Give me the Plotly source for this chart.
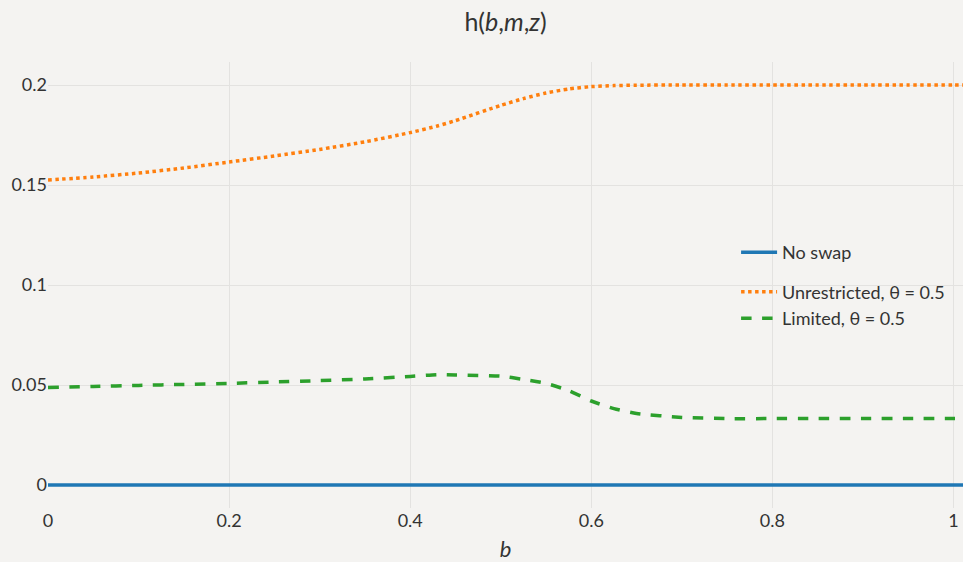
import plotly.graph_objects as go

b_vals = [0, 0.05, 0.1, 0.15, 0.2, 0.25, 0.3, 0.35, 0.4, 0.43, 0.45, 0.5, 0.525, 0.55,
          0.575, 0.6, 0.625, 0.65, 0.7, 0.75, 0.8, 0.85, 0.9, 0.95, 1.0, 1.011]
no_swap = [0.0] * len(b_vals)
unrestricted = [0.1525, 0.154, 0.156, 0.1585, 0.1615, 0.1645, 0.1678, 0.1716, 0.1762, 0.1795,
                0.1822, 0.1898, 0.1932, 0.1960, 0.1980, 0.1992, 0.1997, 0.1999, 0.2, 0.2,
                0.2, 0.2, 0.2, 0.2, 0.2, 0.2]
limited = [0.0488, 0.0493, 0.0498, 0.0503, 0.0508, 0.0515, 0.0522, 0.0530, 0.0543, 0.0552,
           0.0550, 0.0544, 0.0528, 0.0508, 0.0472, 0.0420, 0.0382, 0.0358, 0.0338, 0.0332,
           0.0332, 0.0332, 0.0332, 0.0332, 0.0332, 0.0332]

x_ticks = [0, 0.2, 0.4, 0.6, 0.8, 1]
x_ticktext = ["0", "0.2", "0.4", "0.6", "0.8", "1"]
y_ticks = [0, 0.05, 0.1, 0.15, 0.2]
y_ticktext = ["0", "0.05", "0.1", "0.15", "0.2"]

fig = go.Figure()
fig.add_trace(go.Scatter(x=b_vals, y=no_swap, mode="lines", name="No swap",
                         legendgroup="a",
                         line=dict(color="#1f77b4", width=3.5)))
fig.add_trace(go.Scatter(x=b_vals, y=unrestricted, mode="lines", name="Unrestricted, θ = 0.5",
                         legendgroup="b",
                         line=dict(color="#ff7f0e", width=3.5, dash="dot", shape="spline", smoothing=0.6)))
fig.add_trace(go.Scatter(x=b_vals, y=limited, mode="lines", name="Limited, θ = 0.5",
                         legendgroup="b",
                         line=dict(color="#2ca02c", width=3.5, dash="dash", shape="spline", smoothing=0.6)))

fig.update_layout(
    width=963, height=562,
    margin=dict(l=48, r=0, t=62, b=54),
    paper_bgcolor="#f4f3f1",
    plot_bgcolor="#f4f3f1",
    font=dict(family="Lato", size=18, color="#333333"),
    title=dict(text="h(<i>b</i>,<i>m</i>,<i>z</i>)", xref="paper", x=0.5, xanchor="center",
               y=0.96, yanchor="middle", font=dict(size=25)),
    showlegend=True,
    legend=dict(x=0.752, y=0.614, xanchor="left", yanchor="top", bgcolor="rgba(0,0,0,0)",
                tracegroupgap=13, itemwidth=36, font=dict(size=18)),
    xaxis=dict(title=dict(text="<i>b</i>", standoff=12), range=[0, 1.0105],
               tickvals=x_ticks, ticktext=x_ticktext, showgrid=True,
               gridcolor="#e3e2e0", zeroline=False, showline=False, ticks=""),
    yaxis=dict(range=[-0.0115, 0.2115], tickvals=y_ticks, ticktext=y_ticktext,
               showgrid=True, gridcolor="#e3e2e0", zeroline=False, showline=False, ticks=""),
)

fig.write_html("out.html")
